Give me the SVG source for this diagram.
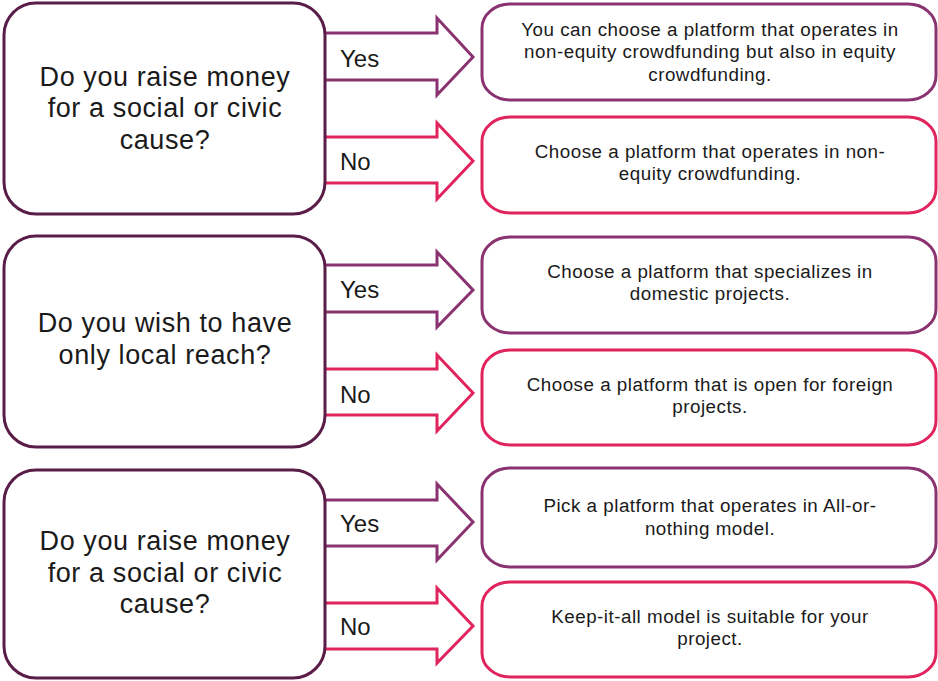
<svg xmlns="http://www.w3.org/2000/svg" width="938" height="681" viewBox="0 0 938 681">
  <style>
    .q { fill: #ffffff; stroke: #5a1d48; stroke-width: 3; }
    .ay { fill: #ffffff; stroke: #8a3370; stroke-width: 3; }
    .an { fill: #ffffff; stroke: #e0245e; stroke-width: 3; }
    .qt { font-family: "Liberation Sans", Arial, sans-serif; font-size: 27px; letter-spacing: 0.6px; fill: #1a1a1a; text-anchor: middle; }
    .at { font-family: "Liberation Sans", Arial, sans-serif; font-size: 18.8px; letter-spacing: 0.5px; fill: #1a1a1a; text-anchor: middle; }
    .lb { font-family: "Liberation Sans", Arial, sans-serif; font-size: 24px; fill: #1a1a1a; }
  </style>

  <!-- connectors: block arrows from each question to its answers -->
  <g id="connectors">
    <path class="ay" d="M325,33 H437 V18 L473,57 L437,95 V80 H325"/>
    <path class="an" d="M325,137 H437 V123 L473,161 L437,199 V183 H325"/>
    <path class="ay" d="M325,265 H437 V252 L473,290 L437,327 V312 H325"/>
    <path class="an" d="M325,369 H437 V355 L473,393 L437,431 V415 H325"/>
    <path class="ay" d="M325,500 H437 V484 L473,522 L437,560 V546 H325"/>
    <path class="an" d="M325,603 H437 V588 L473,626 L437,663 V649 H325"/>
    <text class="lb" x="340" y="67">Yes</text>
    <text class="lb" x="340" y="170">No</text>
    <text class="lb" x="340" y="298">Yes</text>
    <text class="lb" x="340" y="403">No</text>
    <text class="lb" x="340" y="532">Yes</text>
    <text class="lb" x="340" y="635">No</text>
  </g>

  <!-- questions -->
  <g id="q1">
    <rect class="q" x="4" y="3" width="321" height="211" rx="32" ry="32"/>
    <text class="qt" x="165" y="86">Do you raise money</text>
    <text class="qt" x="165" y="117">for a social or civic</text>
    <text class="qt" x="165" y="149">cause?</text>
  </g>
  <g id="q2">
    <rect class="q" x="4" y="236" width="321" height="211" rx="32" ry="32"/>
    <text class="qt" x="165" y="332">Do you wish to have</text>
    <text class="qt" x="165" y="364">only local reach?</text>
  </g>
  <g id="q3">
    <rect class="q" x="4" y="470" width="321" height="208" rx="32" ry="32"/>
    <text class="qt" x="165" y="550">Do you raise money</text>
    <text class="qt" x="165" y="582">for a social or civic</text>
    <text class="qt" x="165" y="613">cause?</text>
  </g>

  <!-- answers -->
  <g id="a1-yes">
    <rect class="ay" x="482" y="4" width="454" height="96" rx="28" ry="24"/>
    <text class="at" x="710" y="36">You can choose a platform that operates in</text>
    <text class="at" x="710" y="58">non-equity crowdfunding but also in equity</text>
    <text class="at" x="710" y="81">crowdfunding.</text>
  </g>
  <g id="a1-no">
    <rect class="an" x="482" y="117" width="454" height="96" rx="28" ry="24"/>
    <text class="at" x="710" y="158">Choose a platform that operates in non-</text>
    <text class="at" x="710" y="180">equity crowdfunding.</text>
  </g>
  <g id="a2-yes">
    <rect class="ay" x="482" y="237" width="454" height="96" rx="28" ry="24"/>
    <text class="at" x="710" y="278">Choose a platform that specializes in</text>
    <text class="at" x="710" y="300">domestic projects.</text>
  </g>
  <g id="a2-no">
    <rect class="an" x="482" y="350" width="454" height="95" rx="28" ry="24"/>
    <text class="at" x="710" y="391">Choose a platform that is open for foreign</text>
    <text class="at" x="710" y="413">projects.</text>
  </g>
  <g id="a3-yes">
    <rect class="ay" x="482" y="468" width="454" height="99" rx="28" ry="24"/>
    <text class="at" x="710" y="512">Pick a platform that operates in All-or-</text>
    <text class="at" x="710" y="535">nothing model.</text>
  </g>
  <g id="a3-no">
    <rect class="an" x="482" y="582" width="454" height="95" rx="28" ry="24"/>
    <text class="at" x="710" y="623">Keep-it-all model is suitable for your</text>
    <text class="at" x="710" y="645">project.</text>
  </g>
</svg>
